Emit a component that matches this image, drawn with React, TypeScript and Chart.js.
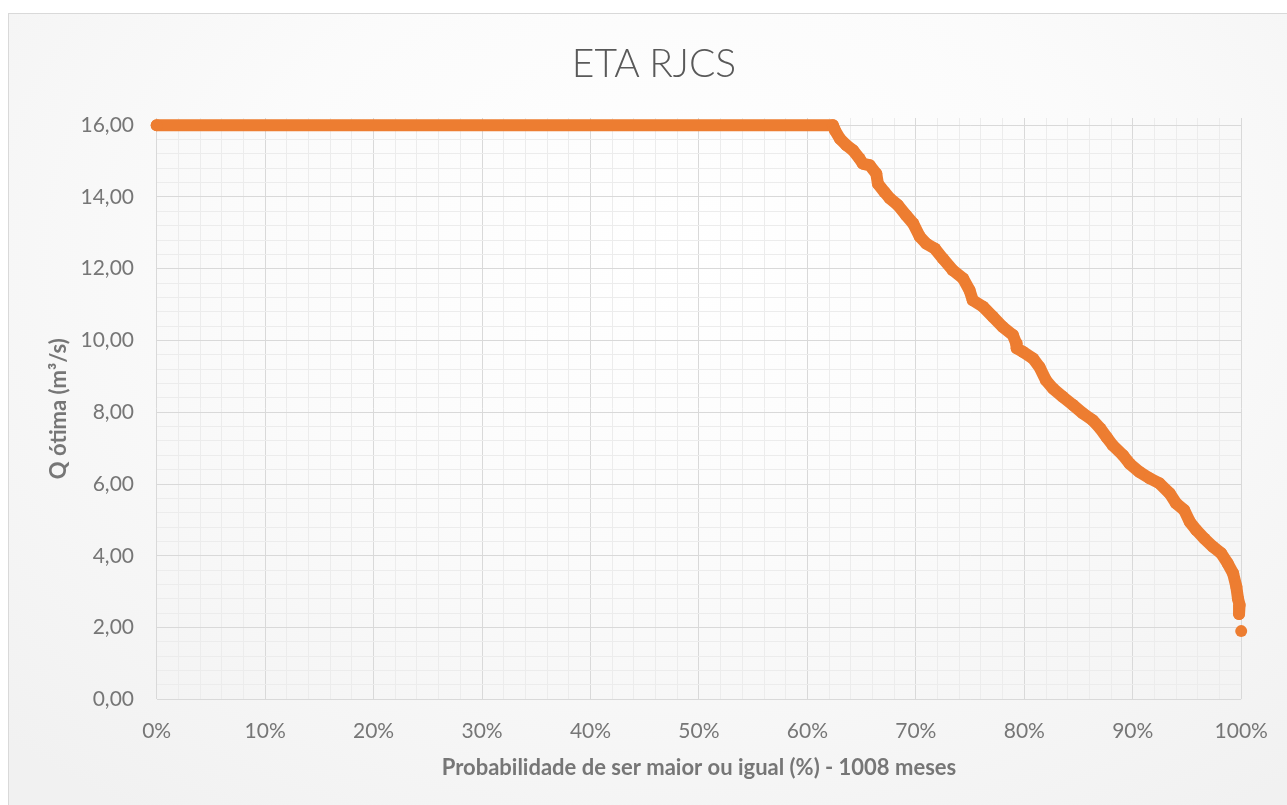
import React, { useEffect, useRef } from "react";
import { Chart, registerables } from "chart.js";

Chart.register(...registerables);

const chartTitle = "ETA RJCS";
const xAxisTitle = "Probabilidade de ser maior ou igual (%) - 1008 meses";
const yAxisTitle = "Q ótima (m³/s)";

// Exceedance probability (%) of the sampled points along the duration curve
const probability = [
  0, 62.35, 62.55, 63.0, 63.6, 64.2, 64.8, 65.1, 65.75, 66.35, 66.5, 67.1, 67.6,
  68.35, 69.1, 69.75, 70.35, 70.95, 71.75, 72.5, 73.4, 74.35, 74.95, 75.25,
  76.2, 77.1, 78.0, 78.95, 79.25, 79.3, 79.9, 80.8, 81.4, 82.0, 82.65, 83.55,
  84.5, 85.4, 86.3, 87.0, 87.6, 88.15, 89.1, 89.7, 90.6, 91.55, 92.45, 93.4,
  94.0, 94.75, 95.25, 95.85, 96.6, 97.4, 98.15, 98.75, 99.25, 99.55, 99.7,
  99.85, 99.8, 100,
];

// Optimal flow (m³/s) at each of those probabilities
const flow = [
  16.0, 16.0, 15.85, 15.62, 15.44, 15.3, 15.07, 14.93, 14.88, 14.65, 14.37,
  14.14, 13.96, 13.77, 13.49, 13.26, 12.9, 12.7, 12.56, 12.28, 11.96, 11.73,
  11.4, 11.12, 10.94, 10.66, 10.38, 10.15, 9.92, 9.78, 9.68, 9.5, 9.26, 8.89,
  8.66, 8.43, 8.2, 7.97, 7.78, 7.55, 7.3, 7.08, 6.8, 6.57, 6.34, 6.16, 6.02,
  5.74, 5.46, 5.27, 4.95, 4.72, 4.48, 4.25, 4.07, 3.79, 3.51, 3.14, 2.81,
  2.63, 2.38, 1.9,
];

// Axis tick positions: minor every 2 % / 0.4 m³/s, labelled every 10 % / 2 m³/s
const xTickValues: number[] = [];
for (let i = 0; i <= 50; i++) xTickValues.push(i * 2);
const yTickValues: number[] = [];
for (let i = 0; i <= 40; i++) yTickValues.push(Math.round(i * 4) / 10);

const ORANGE = "#ED7D31";
const GRID_MAJOR = "#d9d9d9";
const GRID_MINOR = "#ececec";
const TEXT = "#767676";
const FONT = "Lato, 'Open Sans', sans-serif";

const isMultiple = (v: number, step: number) =>
  Math.abs(v / step - Math.round(v / step)) < 1e-6;

export default function App() {
  const canvasRef = useRef<HTMLCanvasElement | null>(null);

  useEffect(() => {
    if (!canvasRef.current) return;
    const lastIndex = flow.length - 1;
    const chart = new Chart(canvasRef.current, {
      type: "scatter",
      data: {
        datasets: [
          {
            data: probability.map((p, i) => ({ x: p, y: flow[i] })),
            showLine: true,
            borderColor: ORANGE,
            backgroundColor: ORANGE,
            borderWidth: 12,
            borderCapStyle: "round",
            borderJoinStyle: "round",
            pointRadius: 6,
            pointBorderWidth: 0,
            pointBackgroundColor: ORANGE,
            clip: false,
            segment: {
              borderColor: (ctx: any) =>
                ctx.p1DataIndex === lastIndex ? "rgba(0,0,0,0)" : undefined,
            },
          } as any,
        ],
      },
      options: {
        animation: false,
        responsive: false,
        layout: { padding: { top: 104, right: 45.3, bottom: 10.7, left: 0 } },
        plugins: {
          legend: { display: false },
          tooltip: { enabled: false },
          title: { display: false },
        },
        scales: {
          x: {
            type: "linear",
            min: 0,
            max: 100,
            afterBuildTicks: (scale: any) => {
              scale.ticks = xTickValues.map((v) => ({ value: v }));
            },
            afterFit: (scale: any) => {
              scale.height = 95;
            },
            border: { display: false },
            grid: {
              drawTicks: false,
              lineWidth: 1,
              color: (ctx: any) =>
                ctx.tick && isMultiple(ctx.tick.value, 10) ? GRID_MAJOR : GRID_MINOR,
            },
            ticks: {
              autoSkip: false,
              maxRotation: 0,
              minRotation: 0,
              padding: 19.1,
              color: TEXT,
              font: { family: FONT, size: 21 },
              callback: (value: any) =>
                isMultiple(Number(value), 10) ? `${Math.round(Number(value))}%` : "",
            },
            title: {
              display: true,
              text: xAxisTitle,
              color: TEXT,
              font: { family: FONT, size: 22, weight: "bold" },
              padding: { top: 0, bottom: 13.1 },
            },
          },
          y: {
            type: "linear",
            min: 0,
            max: 16.2,
            afterBuildTicks: (scale: any) => {
              scale.ticks = yTickValues.map((v) => ({ value: v }));
            },
            afterFit: (scale: any) => {
              scale.width = 147.7;
            },
            border: { display: false },
            grid: {
              drawTicks: false,
              lineWidth: 1,
              color: (ctx: any) =>
                ctx.tick && isMultiple(ctx.tick.value, 2) ? GRID_MAJOR : GRID_MINOR,
            },
            ticks: {
              autoSkip: false,
              padding: 22.7,
              color: TEXT,
              font: { family: FONT, size: 21 },
              callback: (value: any) =>
                isMultiple(Number(value), 2)
                  ? Number(value).toFixed(2).replace(".", ",")
                  : "",
            },
            title: {
              display: true,
              text: yAxisTitle,
              color: TEXT,
              font: { family: FONT, size: 22, weight: "bold" },
              padding: { top: 36.8, bottom: 0 },
            },
          },
        },
      } as any,
    });
    return () => chart.destroy();
  }, []);

  return (
    <div
      style={{
        position: "fixed",
        left: 8,
        top: 13,
        width: 1290,
        height: 800,
        boxSizing: "border-box",
        borderTop: "1px solid #d9d9d9",
        borderLeft: "1px solid #d9d9d9",
        background:
          "radial-gradient(ellipse 75% 85% at 52% 30%, #ffffff 0%, #fbfbfb 45%, #f1f1f1 100%)",
        overflow: "hidden",
      }}
    >
      <canvas
        ref={canvasRef}
        width={1278}
        height={791}
        style={{ position: "absolute", left: 0, top: 0, width: 1278, height: 791 }}
      />
      <div
        style={{
          position: "absolute",
          left: 645,
          top: 48,
          transform: "translate(-50%, -50%)",
          fontFamily: FONT,
          fontWeight: 300,
          fontSize: 39,
          lineHeight: 1,
          color: "#595959",
          whiteSpace: "nowrap",
        }}
      >
        {chartTitle}
      </div>
    </div>
  );
}
